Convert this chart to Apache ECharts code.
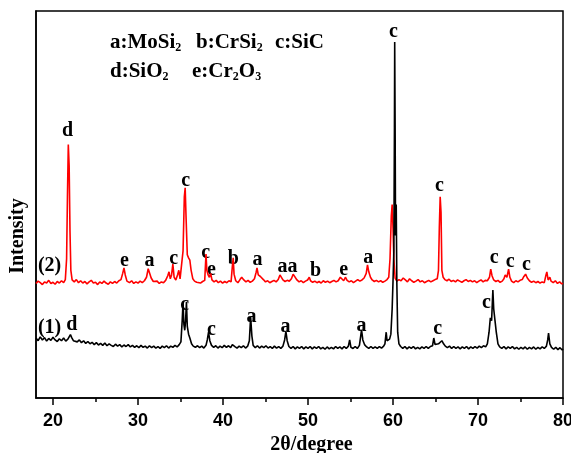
<!DOCTYPE html>
<html>
<head>
<meta charset="utf-8">
<script src="https://cdn.jsdelivr.net/npm/echarts@6.0.0/dist/echarts.min.js"></script>
<style>
html, body { margin: 0; padding: 0; background: #fff; }
#chart { width: 571px; height: 453px; }
</style>
</head>
<body>
<div id="chart"></div>
<script>
// 2theta (degree), intensity (a.u.)
const sample1 = [ // (1) black
  [18.0,155],[18.25,148],[18.5,158],[18.75,150],[19.0,156],[19.25,147],[19.5,154],[19.75,149],[20.0,157],[20.25,150],
  [20.5,146],[20.75,153],[21.0,148],[21.25,155],[21.5,147],[21.75,152],[21.9,158],[22.05,164],[22.2,156],[22.4,148],
  [22.6,152],[22.85,145],[23.1,150],[23.35,143],[23.6,148],[23.85,141],[24.1,146],[24.35,140],[24.6,144],[24.85,138],
  [25.1,143],[25.35,137],[25.6,141],[25.85,136],[26.1,142],[26.35,135],[26.6,140],[26.85,136],[27.1,133],[27.35,139],
  [27.6,134],[27.85,138],[28.1,132],[28.35,137],[28.6,133],[28.85,138],[29.1,132],[29.35,136],[29.6,131],[29.85,135],
  [30.1,130],[30.35,136],[30.6,131],[30.85,134],[31.1,129],[31.35,135],[31.6,130],[31.85,134],[32.1,129],[32.35,133],
  [32.6,128],[32.85,134],[33.1,130],[33.35,135],[33.6,129],[33.85,134],[34.1,131],[34.35,136],[34.6,132],[34.85,138],
  [35.05,145],[35.2,200],[35.3,248],[35.4,190],[35.5,175],[35.6,200],[35.7,248],[35.8,185],[35.95,165],[36.1,155],
  [36.3,140],[36.5,134],[36.75,131],[37.0,135],[37.25,130],[37.5,134],[37.75,129],[38.0,136],[38.15,150],[38.3,170],
  [38.45,148],[38.65,136],[38.9,131],[39.15,135],[39.4,129],[39.65,134],[39.9,130],[40.15,136],[40.4,131],[40.65,135],
  [40.9,130],[41.1,138],[41.25,143],[41.4,133],[41.65,129],[41.9,134],[42.15,130],[42.4,135],[42.65,129],[42.9,134],
  [43.1,148],[43.25,209],[43.4,160],[43.55,136],[43.8,130],[44.05,135],[44.3,129],[44.55,134],[44.8,130],[45.05,135],
  [45.3,129],[45.55,133],[45.8,128],[46.05,134],[46.3,129],[46.55,133],[46.8,128],[47.05,134],[47.25,150],[47.4,172],
  [47.55,148],[47.75,133],[48.0,128],[48.25,133],[48.5,127],[48.75,132],[49.0,128],[49.25,133],[49.5,127],[49.75,132],
  [50.0,128],[50.25,133],[50.5,127],[50.75,132],[51.0,128],[51.25,133],[51.5,127],[51.75,131],[52.0,126],[52.25,132],
  [52.5,127],[52.75,131],[53.0,127],[53.25,133],[53.5,128],[53.75,132],[54.0,127],[54.25,133],[54.5,128],[54.75,134],
  [54.9,150],[55.05,131],[55.3,128],[55.55,133],[55.8,128],[56.05,136],[56.2,160],[56.3,176],[56.45,150],[56.65,138],
  [56.9,132],[57.15,128],[57.4,133],[57.65,128],[57.9,132],[58.15,128],[58.4,133],[58.65,129],[58.9,134],[59.05,140],
  [59.2,170],[59.3,148],[59.45,145],[59.6,152],[59.75,165],[59.9,230],[60.0,300],[60.1,380],[60.17,700],[60.2,920],
  [60.25,700],[60.3,420],[60.38,500],[60.45,300],[60.55,170],[60.7,140],[60.9,133],[61.15,128],[61.4,133],[61.65,127],
  [61.9,132],[62.15,128],[62.4,133],[62.65,127],[62.9,131],[63.15,127],[63.4,132],[63.65,128],[63.9,133],[64.15,128],
  [64.4,133],[64.65,135],[64.8,155],[64.95,138],[65.15,135],[65.35,140],[65.55,145],[65.75,148],[65.95,140],[66.15,134],
  [66.4,130],[66.65,134],[66.9,128],[67.15,133],[67.4,128],[67.65,132],[67.9,127],[68.15,132],[68.4,128],[68.65,133],
  [68.9,127],[69.15,132],[69.4,128],[69.65,133],[69.9,129],[70.15,134],[70.4,130],[70.65,135],[70.9,132],[71.1,140],
  [71.3,170],[71.45,207],[71.6,200],[71.75,279],[71.85,230],[72.0,200],[72.15,170],[72.35,140],[72.55,132],[72.8,128],
  [73.05,133],[73.3,127],[73.55,132],[73.8,128],[74.05,133],[74.3,127],[74.55,131],[74.8,126],[75.05,131],[75.3,127],
  [75.55,132],[75.8,126],[76.05,131],[76.3,127],[76.55,132],[76.8,126],[77.05,131],[77.3,127],[77.55,132],[77.8,128],
  [78.05,134],[78.2,150],[78.3,168],[78.45,140],[78.65,131],[78.9,126],[79.15,131],[79.4,125],[79.65,130],[79.9,124],
  [80.0,127]
];

const sample2 = [ // (2) red
  [18.0,296],[18.25,302],[18.5,298],[18.75,293],[19.0,300],[19.25,297],[19.5,304],[19.75,296],[20.0,299],[20.25,294],
  [20.5,301],[20.75,297],[21.0,303],[21.25,298],[21.45,306],[21.6,360],[21.7,520],[21.8,655],[21.9,600],[22.0,430],
  [22.1,330],[22.25,305],[22.5,300],[22.75,306],[23.0,298],[23.25,303],[23.5,297],[23.75,301],[24.0,295],[24.25,300],
  [24.5,304],[24.75,297],[25.0,299],[25.25,293],[25.5,300],[25.75,296],[26.0,302],[26.25,297],[26.5,294],[26.75,300],
  [27.0,296],[27.25,301],[27.5,297],[27.75,303],[28.0,306],[28.2,322],[28.35,336],[28.5,318],[28.7,302],[29.0,298],
  [29.25,303],[29.5,296],[29.75,300],[30.0,297],[30.25,302],[30.5,298],[30.75,303],[31.0,312],[31.2,334],[31.35,330],
  [31.55,310],[31.8,301],[32.0,297],[32.25,302],[32.5,296],[32.75,300],[33.0,298],[33.25,304],[33.5,316],[33.65,326],
  [33.8,308],[33.95,318],[34.1,346],[34.25,312],[34.45,305],[34.65,318],[34.8,330],[34.95,308],[35.15,312],[35.3,380],
  [35.45,520],[35.55,543],[35.65,470],[35.8,370],[35.95,362],[36.1,356],[36.25,330],[36.45,308],[36.65,302],[36.9,299],
  [37.1,304],[37.35,297],[37.6,301],[37.85,304],[38.0,372],[38.1,330],[38.25,318],[38.4,312],[38.55,322],[38.7,305],
  [38.95,300],[39.2,304],[39.45,298],[39.7,302],[39.95,297],[40.2,301],[40.45,298],[40.7,303],[40.95,300],[41.1,340],
  [41.2,362],[41.3,320],[41.5,303],[41.75,298],[42.0,306],[42.2,312],[42.45,305],[42.7,300],[42.95,304],[43.2,299],
  [43.45,302],[43.7,308],[43.9,325],[44.0,336],[44.15,318],[44.4,314],[44.55,318],[44.75,306],[45.0,300],[45.25,303],
  [45.5,298],[45.75,301],[46.0,304],[46.25,300],[46.5,306],[46.7,318],[46.85,315],[47.05,305],[47.3,301],[47.55,304],
  [47.8,302],[48.05,308],[48.25,320],[48.45,315],[48.7,305],[48.95,300],[49.2,303],[49.45,298],[49.7,302],[49.95,305],
  [50.15,312],[50.3,303],[50.55,299],[50.8,302],[51.05,298],[51.3,301],[51.55,297],[51.8,303],[52.05,299],[52.3,302],
  [52.55,298],[52.8,301],[53.05,304],[53.3,300],[53.55,303],[53.8,312],[54.0,308],[54.2,303],[54.4,312],[54.6,304],
  [54.85,300],[55.1,303],[55.35,298],[55.6,302],[55.85,306],[56.1,302],[56.35,305],[56.6,310],[56.85,322],[57.0,344],
  [57.15,326],[57.35,312],[57.55,305],[57.8,301],[58.05,304],[58.3,300],[58.55,303],[58.8,299],[59.05,302],[59.3,306],
  [59.5,312],[59.65,360],[59.8,470],[59.9,500],[60.0,440],[60.1,360],[60.25,310],[60.45,302],[60.7,306],[60.95,303],
  [61.2,310],[61.45,305],[61.7,300],[61.95,308],[62.2,303],[62.45,299],[62.7,302],[62.95,306],[63.2,300],[63.45,303],
  [63.7,298],[63.95,301],[64.2,304],[64.45,300],[64.7,303],[64.95,306],[65.2,308],[65.35,330],[65.45,440],[65.55,520],
  [65.65,480],[65.75,330],[65.9,312],[66.1,306],[66.35,303],[66.6,307],[66.85,301],[67.1,304],[67.35,300],[67.6,305],
  [67.85,302],[68.1,299],[68.35,303],[68.6,306],[68.85,301],[69.1,304],[69.35,300],[69.6,303],[69.85,298],[70.1,302],
  [70.35,305],[70.6,300],[70.85,304],[71.1,303],[71.35,312],[71.5,333],[71.65,316],[71.85,305],[72.1,301],[72.35,304],
  [72.6,299],[72.85,302],[73.05,308],[73.2,318],[73.4,312],[73.6,333],[73.75,312],[73.95,302],[74.2,298],[74.45,303],
  [74.7,300],[74.95,304],[75.2,306],[75.4,314],[75.6,320],[75.8,310],[76.05,303],[76.3,299],[76.55,302],[76.8,298],
  [77.05,301],[77.3,297],[77.55,300],[77.8,298],[78.0,318],[78.1,326],[78.25,305],[78.45,312],[78.6,302],[78.85,298],
  [79.1,303],[79.35,296],[79.6,300],[79.85,295],[80.0,297]
];

// phase letters above the peaks: [2theta, intensity, text]
const peakLabels = [
  [21.7,690,'d'],[28.4,355,'e'],[31.35,355,'a'],[34.2,360,'c'],[35.6,560,'c'],[37.95,375,'c'],[38.65,330,'e'],
  [41.2,359,'b'],[44.05,358,'a'],[47.6,340,'aa'],[50.9,328,'b'],[54.2,332,'e'],[57.1,361,'a'],[60.05,945,'c'],
  [65.45,548,'c'],[71.9,362,'c'],[73.8,352,'c'],[75.7,345,'c'],[19.6,341,'(2)'],
  [22.2,188,'d'],[35.5,240,'c'],[38.65,176,'c'],[43.35,210,'a'],[47.35,185,'a'],[56.3,186,'a'],[65.25,178,'c'],
  [71.0,247,'c'],[19.6,181,'(1)']
];

const majorTicks = [20, 30, 40, 50, 60, 70, 80];
const minorTicks = [25, 35, 45, 55, 65, 75];

// phase key: [x, y, subscript-marked text]
const phaseKey = [
  [110, 43, '{t|a:MoSi}{s|2}'],
  [196, 43, '{t|b:CrSi}{s|2}'],
  [275, 43, '{t|c:SiC}'],
  [110, 72, '{t|d:SiO}{s|2}'],
  [192, 72, '{t|e:Cr}{s|2}{t|O}{s|3}']
];

const serif = 'Liberation Serif';
const chart = echarts.init(document.getElementById('chart'));

const keyText = phaseKey.map(k => ({
  type: 'text', x: k[0], y: k[1],
  style: {
    text: k[2], verticalAlign: 'middle',
    rich: {
      t: { fontSize: 21, fontFamily: serif, fontWeight: 'bold', fill: '#000', lineHeight: 22 },
      s: { fontSize: 12, fontFamily: serif, fontWeight: 'bold', fill: '#000', verticalAlign: 'bottom', lineHeight: 10 }
    }
  }
}));

chart.setOption({
  animation: false,
  grid: {
    left: 36, right: 8, top: 11, bottom: 55, outerBoundsMode: 'none',
    show: true, borderColor: '#000', borderWidth: 1.5
  },
  xAxis: [{
    type: 'value', min: 18, max: 80,
    axisLine: { lineStyle: { color: '#000', width: 1.5 } },
    axisTick: { customValues: majorTicks, length: 7, lineStyle: { color: '#000', width: 1.5 } },
    axisLabel: { customValues: majorTicks, color: '#000', fontSize: 18, fontWeight: 'bold', fontFamily: 'Liberation Sans', margin: 14 },
    splitLine: { show: false },
    name: '2θ/degree', nameLocation: 'middle', nameGap: 35,
    nameTextStyle: { color: '#000', fontSize: 20, fontWeight: 'bold', fontFamily: serif, padding: [0, 0, 0, 24] }
  }, {
    type: 'value', min: 18, max: 80, position: 'bottom',
    axisLine: { show: false },
    axisTick: { customValues: minorTicks, length: 4, lineStyle: { color: '#000', width: 1.5 } },
    axisLabel: { show: false },
    splitLine: { show: false }
  }],
  yAxis: {
    type: 'value', min: 0, max: 1000,
    axisLine: { show: true, lineStyle: { color: '#000', width: 1.5 } },
    axisTick: { show: false }, axisLabel: { show: false }, splitLine: { show: false }
  },
  graphic: [{
    type: 'text', x: 18, y: 236, rotation: Math.PI / 2,
    style: { text: 'Intensity', fontSize: 20, fontWeight: 'bold', fontFamily: serif, fill: '#000', align: 'center', verticalAlign: 'middle' }
  }].concat(keyText),
  series: [{
    type: 'line', data: sample2, showSymbol: false, xAxisIndex: 0,
    lineStyle: { color: '#ff0000', width: 1.6 }
  }, {
    type: 'line', data: sample1, showSymbol: false, xAxisIndex: 0,
    lineStyle: { color: '#000', width: 1.6 }
  }, {
    type: 'scatter', symbolSize: 0, xAxisIndex: 0,
    itemStyle: { opacity: 1 },
    data: peakLabels.map(p => ({ value: [p[0], p[1]], name: p[2] })),
    label: { show: true, position: 'inside', formatter: '{b}', color: '#000', opacity: 1, fontSize: 20, fontWeight: 'bold', fontFamily: serif }
  }]
});
</script>
</body>
</html>
